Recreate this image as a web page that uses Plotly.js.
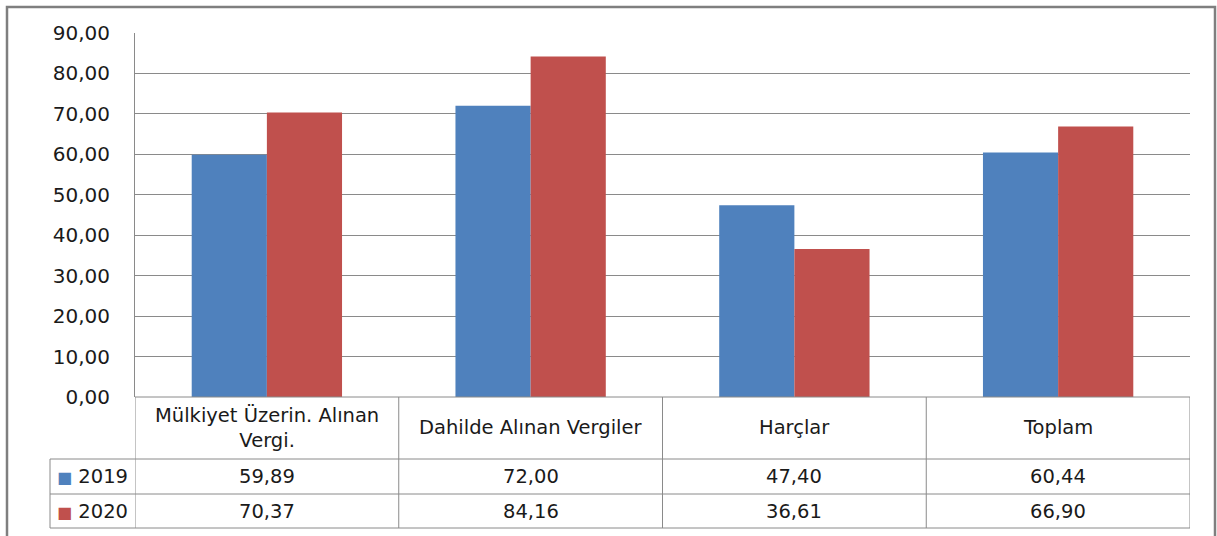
<!DOCTYPE html>
<html><head><meta charset="utf-8">
<script src="https://cdn.plot.ly/plotly-3.0.1.min.js"></script>
<style>body{margin:0;background:#fff}#c{width:1217px;height:536px}</style>
</head><body><div id="c"></div>
<script>
const categories = ["Mülkiyet Üzerin. Alınan<br>Vergi.", "Dahilde Alınan Vergiler", "Harçlar", "Toplam"];
const seriesNames = ["2019", "2020"];
const values2019 = [59.89, 72.00, 47.40, 60.44];
const values2020 = [70.37, 84.16, 36.61, 66.90];
const colors = ["#4F81BD", "#C0504D"];

const FONT = "DejaVu Sans, sans-serif";
const TXT = "#1a1a1a";
const FS = 19.5;
const fmt = v => v.toFixed(2).replace('.', ',');
const idx = categories.map((_, i) => i);

const traces = [values2019, values2020].map((vals, k) => ({
  type: 'bar', x: idx, y: vals, name: seriesNames[k],
  marker: {color: colors[k]}, hoverinfo: 'none'
}));

// pixel geometry helpers (plot area: x 135..1190, y 33..397)
const L = 135, R = 1190, T = 33, B = 397;
const px = X => (X - L) / (R - L);
const py = Y => (B - Y) / (B - T);

const lineC = "#8a8a8a";
const shapes = [];
// outer frame
shapes.push({type:'rect', xref:'paper', yref:'paper', x0:px(7), x1:px(1215), y0:py(540), y1:py(7),
  line:{color:'#7f7f7f', width:2.5}, fillcolor:'rgba(0,0,0,0)', layer:'below'});
// table horizontal lines
shapes.push({type:'line', xref:'paper', yref:'paper', x0:0, x1:1, y0:0, y1:0, line:{color:lineC, width:1}});
[459, 494, 528].forEach(Y => shapes.push({type:'line', xref:'paper', yref:'paper',
  x0:px(50), x1:1, y0:py(Y), y1:py(Y), line:{color:lineC, width:1}}));
// table vertical lines at category boundaries
for (let i = 0; i <= categories.length; i++) {
  shapes.push({type:'line', xref:'x', yref:'paper', x0:i-0.5, x1:i-0.5, y0:py(528), y1:py(397),
    line:{color:lineC, width:1}});
}
shapes.push({type:'line', xref:'paper', yref:'paper', x0:px(50), x1:px(50), y0:py(528), y1:py(459),
  line:{color:lineC, width:1}});

const annotations = [];
categories.forEach((c, i) => {
  annotations.push({xref:'x', yref:'paper', x:i, y:py(428), text:c, showarrow:false,
    xanchor:'center', yanchor:'middle', font:{family:FONT, size:FS, color:TXT}});
  annotations.push({xref:'x', yref:'paper', x:i, y:py(476.5), text:fmt(values2019[i]), showarrow:false,
    xanchor:'center', yanchor:'middle', font:{family:FONT, size:FS, color:TXT}});
  annotations.push({xref:'x', yref:'paper', x:i, y:py(511), text:fmt(values2020[i]), showarrow:false,
    xanchor:'center', yanchor:'middle', font:{family:FONT, size:FS, color:TXT}});
});
[[476.5, 0], [511, 1]].forEach(([Y, k]) => {
  annotations.push({xref:'paper', yref:'paper', x:px(55), y:py(Y), showarrow:false,
    xanchor:'left', yanchor:'middle',
    text:'<span style="color:' + colors[k] + ';font-size:16px">■</span> ' + seriesNames[k],
    font:{family:FONT, size:FS, color:TXT}});
});

const layout = {
  width:1217, height:536,
  margin:{l:L, r:1217-R, t:T, b:536-B, pad:0},
  paper_bgcolor:'#fff', plot_bgcolor:'#fff',
  separators:',.',
  showlegend:false,
  barmode:'group', bargap:0.43, bargroupgap:0,
  xaxis:{type:'linear', range:[-0.5, 3.5], showticklabels:false, showgrid:false, zeroline:false,
    showline:false, ticks:'', fixedrange:true},
  yaxis:{range:[0, 90], dtick:10, tickformat:'.2f', gridcolor:lineC, gridwidth:1,
    zeroline:false, showline:true, linecolor:lineC, linewidth:1, ticks:'',
    ticklabelstandoff:20, tickfont:{family:FONT, size:20, color:TXT}, fixedrange:true},
  shapes, annotations
};
Plotly.newPlot('c', traces, layout, {displayModeBar:false, staticPlot:true});
</script></body></html>
